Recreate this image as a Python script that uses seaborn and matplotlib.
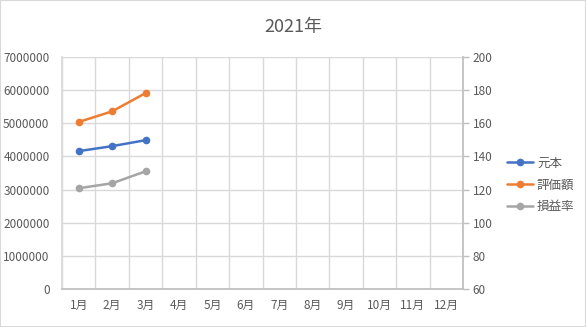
import matplotlib
matplotlib.use("Agg")
import matplotlib.pyplot as plt
import seaborn as sns
import numpy as np
import pandas as pd
from matplotlib.patches import Rectangle
from matplotlib.lines import Line2D

months = ["1月", "2月", "3月", "4月", "5月", "6月", "7月", "8月", "9月", "10月", "11月", "12月"]
principal = [4160000, 4310000, 4490000]      # 元本
valuation = [5040000, 5360000, 5910000]      # 評価額
ratio = [120.8, 123.8, 131.0]                # 損益率
left_ticks = [0, 1000000, 2000000, 3000000, 4000000, 5000000, 6000000, 7000000]
right_ticks = [60, 80, 100, 120, 140, 160, 180, 200]

sns.set_theme(style="white")
plt.rcParams['font.family'] = ['Noto Sans CJK JP', 'DejaVu Sans']

BLUE, ORANGE, GRAY = "#4472C4", "#ED7D31", "#A5A5A5"
TXT = "#595959"
GRID = "#D9D9D9"

fig = plt.figure(figsize=(5.86, 3.27), dpi=100)
fig.patches.append(Rectangle((0, 0), 1, 1, transform=fig.transFigure,
                             fill=False, edgecolor=GRID, linewidth=1.5, zorder=10))
ax = fig.add_axes([62/586, 1-289/327, (463-62)/586, (289-57)/327])
ax2 = ax.twinx()

n = len(principal)
df = pd.DataFrame({"x": np.arange(n), "元本": principal, "評価額": valuation, "損益率": ratio})

kw = dict(linewidth=1.8, marker="o", markersize=5.5, markeredgewidth=0)
sns.lineplot(data=df, x="x", y="元本", ax=ax, color=BLUE, **kw)
sns.lineplot(data=df, x="x", y="評価額", ax=ax, color=ORANGE, **kw)
sns.lineplot(data=df, x="x", y="損益率", ax=ax2, color=GRAY, **kw)

ax.set_xlim(-0.5, len(months) - 0.5)
ax.set_ylim(0, 7000000)
ax2.set_ylim(60, 200)
ax.set_xticks(np.arange(len(months)))
ax.set_xticklabels(months)
ax.set_xticks(np.arange(-0.5, len(months), 1), minor=True)
ax.set_yticks(left_ticks)
ax.set_yticklabels([str(v) for v in left_ticks])
ax2.set_yticks(right_ticks)
ax2.set_yticklabels([str(v) for v in right_ticks])

ax.grid(True, which="major", axis="y", color=GRID, linewidth=1)
ax.grid(True, which="minor", axis="x", color=GRID, linewidth=1)
ax.grid(False, which="major", axis="x")
ax.set_axisbelow(True)
ax2.grid(False)

for a in (ax, ax2):
    for s in a.spines.values():
        s.set_visible(False)
    a.set_xlabel("")
    a.set_ylabel("")
ax.spines["bottom"].set_visible(True)
ax.spines["bottom"].set_color("#BFBFBF")
ax.spines["left"].set_visible(True)
ax.spines["left"].set_color(GRID)
ax2.spines["right"].set_visible(True)
ax2.spines["right"].set_color("#BFBFBF")

ax.tick_params(axis="x", which="both", length=0, labelsize=8.5, colors=TXT, pad=7)
ax.tick_params(axis="y", length=0, labelsize=8.5, colors=TXT, pad=9)
ax2.tick_params(axis="y", length=4, width=1, color="#BFBFBF", labelsize=8.5, labelcolor=TXT, pad=3)

fig.text(0.5, 1-27/327, "2021年", ha="center", va="center", fontsize=13, color=TXT)

handles = [Line2D([], [], color=c, linewidth=1.8, marker="o", markersize=5.5, markeredgewidth=0)
           for c in (BLUE, ORANGE, GRAY)]
fig.legend(handles, ["元本", "評価額", "損益率"], loc="center left",
           bbox_to_anchor=(507/586, 1-185/327), frameon=False, fontsize=9,
           handlelength=2.1, handletextpad=0.3, labelspacing=0.7, labelcolor=TXT,
           borderaxespad=0, borderpad=0)

fig.savefig("out.png", dpi=100)
